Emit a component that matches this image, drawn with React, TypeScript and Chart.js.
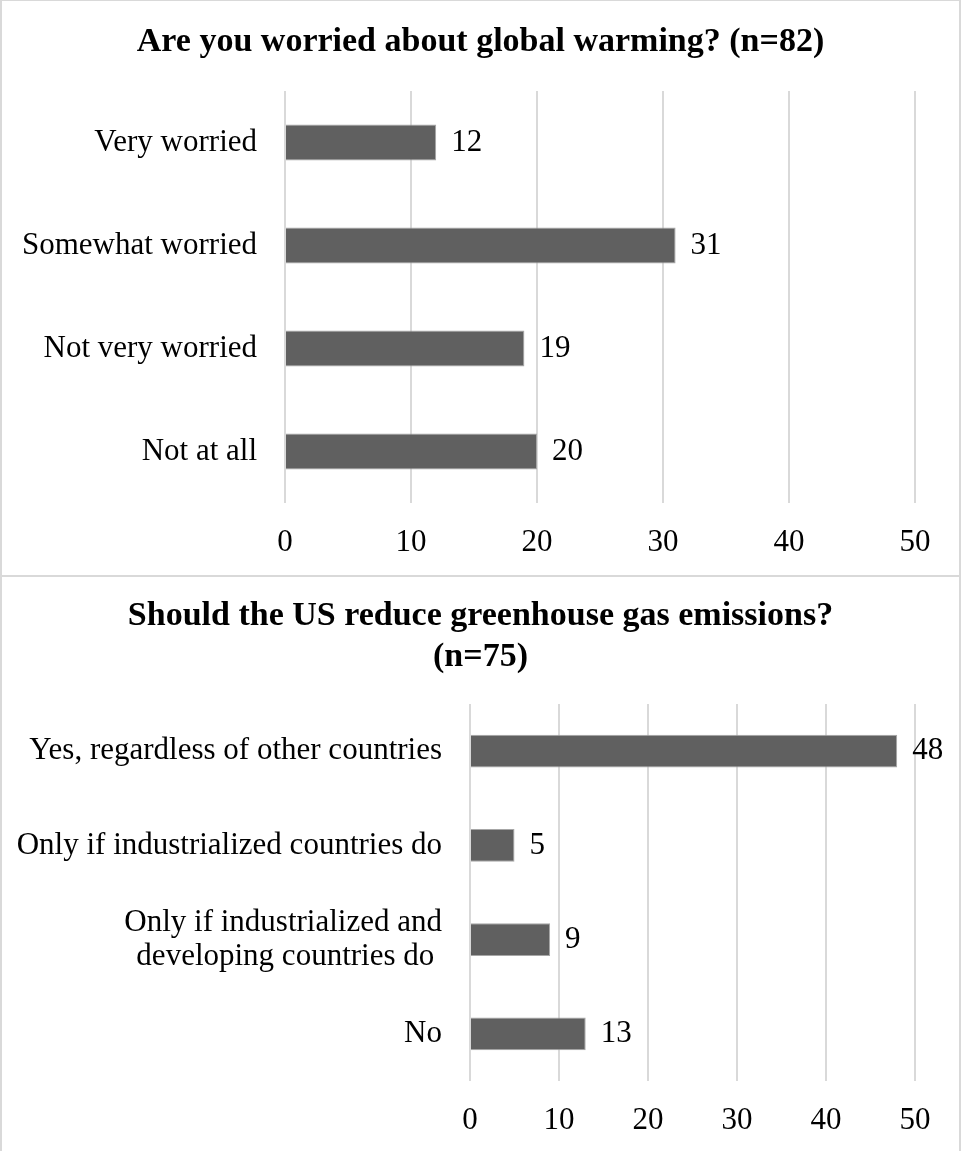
import React, { useEffect, useRef } from 'react';
import { Chart, registerables } from 'chart.js';

Chart.register(...registerables);

// Survey question 1
const worryTitle = ['Are you worried about global warming? (n=82)'];
const worryCategories = ['Very worried', 'Somewhat worried', 'Not very worried', 'Not at all'];
const worryCounts = [12, 31, 19, 20];

// Survey question 2
const emissionTitle = ['Should the US reduce greenhouse gas emissions?', '(n=75)'];
const emissionCategories: (string | string[])[] = [
  'Yes, regardless of other countries',
  'Only if industrialized countries do',
  ['Only if industrialized and', 'developing countries do '],
  'No',
];
const emissionCounts = [48, 5, 9, 13];

// Shared value axis
const axisTicks = [0, 10, 20, 30, 40, 50];

const FAMILY = '"Liberation Serif", "Times New Roman", serif';
const TEXT = '#000000';
const LABEL_SIZE = 31;
const TITLE_SIZE = 34;

// Writes each bar's count just past its end
const valueLabels = {
  id: 'valueLabels',
  afterDatasetsDraw(chart: any) {
    const { ctx } = chart;
    const meta = chart.getDatasetMeta(0);
    const values = chart.data.datasets[0].data as number[];
    ctx.save();
    ctx.font = `${LABEL_SIZE}px ${FAMILY}`;
    ctx.fillStyle = TEXT;
    ctx.textAlign = 'left';
    ctx.textBaseline = 'middle';
    meta.data.forEach((bar: any, i: number) => {
      ctx.fillText(String(values[i]), bar.x + 15, bar.y);
    });
    ctx.restore();
  },
};

// Heading centred on the whole canvas (the plot area sits off-centre)
const panelTitle = {
  id: 'panelTitle',
  afterDraw(chart: any, _args: any, opts: any) {
    const { ctx, width } = chart;
    const lines: string[] = opts.lines || [];
    ctx.save();
    ctx.font = `bold ${TITLE_SIZE}px ${FAMILY}`;
    ctx.fillStyle = TEXT;
    ctx.textAlign = 'center';
    ctx.textBaseline = 'middle';
    lines.forEach((line, i) => {
      ctx.fillText(line, width / 2, opts.firstLine + i * opts.lineGap);
    });
    ctx.restore();
  },
};

type PanelProps = {
  title: string[];
  labels: (string | string[])[];
  values: number[];
  width: number;
  height: number;
  titleY: number;
  plotTop: number;
  axisWidth: number;
  axisHeight: number;
  tickPad: number;
};

function BarPanel(p: PanelProps) {
  const ref = useRef<HTMLCanvasElement>(null);

  useEffect(() => {
    const chart = new Chart(ref.current as HTMLCanvasElement, {
      type: 'bar',
      data: {
        labels: p.labels,
        datasets: [
          {
            data: p.values,
            backgroundColor: '#606060',
            borderColor: '#a6a6a6',
            borderWidth: 1,
            categoryPercentage: 0.35,
            barPercentage: 1,
          },
        ],
      },
      options: {
        indexAxis: 'y',
        responsive: false,
        animation: false,
        layout: { padding: { left: 0, right: 46, top: p.plotTop, bottom: 0 } },
        plugins: {
          legend: { display: false },
          tooltip: { enabled: false },
          title: { display: false },
          panelTitle: { lines: p.title, firstLine: p.titleY, lineGap: 41 },
        },
        scales: {
          x: {
            min: 0,
            max: 50,
            afterBuildTicks: (s: any) => {
              s.ticks = axisTicks.map((v) => ({ value: v }));
            },
            ticks: {
              color: TEXT,
              font: { family: FAMILY, size: LABEL_SIZE, lineHeight: 34 / LABEL_SIZE },
              padding: p.tickPad,
              maxRotation: 0,
            },
            grid: { color: '#d9d9d9', lineWidth: 2, drawTicks: false },
            border: { display: false },
            afterFit: (s: any) => {
              s.height = p.axisHeight;
            },
          },
          y: {
            ticks: {
              color: TEXT,
              font: { family: FAMILY, size: LABEL_SIZE, lineHeight: 34 / LABEL_SIZE },
              padding: 28,
            },
            grid: { display: false, drawTicks: false },
            border: { display: false },
            afterFit: (s: any) => {
              s.width = p.axisWidth;
            },
          },
        },
      },
      plugins: [valueLabels, panelTitle],
    } as any);
    return () => chart.destroy();
  }, []);

  return <canvas ref={ref} width={p.width} height={p.height} style={{ display: 'block' }} />;
}

export default function App() {
  return (
    <div
      style={{
        position: 'absolute',
        left: 0,
        top: 0,
        width: 961,
        height: 1151,
        overflow: 'hidden',
        background: '#ffffff',
      }}
    >
      <div style={{ position: 'absolute', left: 0, top: 0 }}>
        <BarPanel
          title={worryTitle}
          labels={worryCategories}
          values={worryCounts}
          width={961}
          height={576}
          titleY={42}
          plotTop={91}
          axisWidth={285}
          axisHeight={73}
          tickPad={23}
        />
      </div>
      <div style={{ position: 'absolute', left: 0, top: 576 }}>
        <BarPanel
          title={emissionTitle}
          labels={emissionCategories}
          values={emissionCounts}
          width={961}
          height={575}
          titleY={40}
          plotTop={128}
          axisWidth={470}
          axisHeight={70}
          tickPad={23}
        />
      </div>
      <div
        style={{
          position: 'absolute',
          left: 0,
          top: -1,
          width: 961,
          height: 578,
          boxSizing: 'border-box',
          border: '2px solid #d9d9d9',
          pointerEvents: 'none',
        }}
      />
      <div
        style={{
          position: 'absolute',
          left: 0,
          top: 575,
          width: 961,
          height: 600,
          boxSizing: 'border-box',
          border: '2px solid #d9d9d9',
          pointerEvents: 'none',
        }}
      />
    </div>
  );
}
